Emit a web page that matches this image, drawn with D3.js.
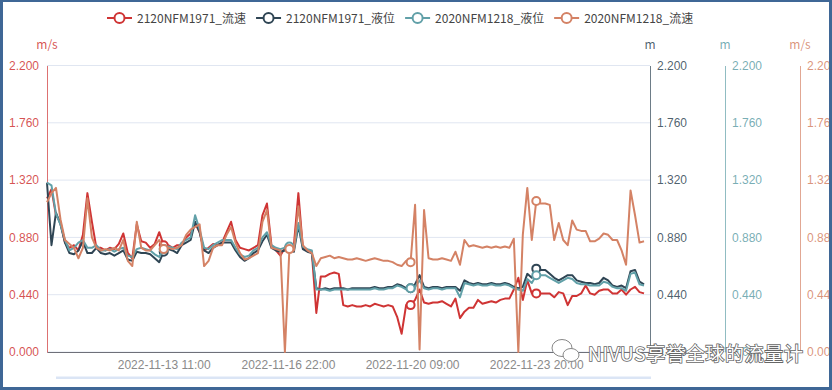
<!DOCTYPE html>
<html>
<head>
<meta charset="utf-8">
<script src="https://cdn.jsdelivr.net/npm/d3@7"></script>
<style>
    body { margin: 0; background: #fff; }
    svg { display: block; font-family: "Microsoft YaHei", "Noto Sans CJK SC", sans-serif; }
</style>
</head>
<body>
<div id="chart"></div>
<script>
const w = 832;
const h = 390;

const margin = {
    left: 47,
    right: 182,
    top: 65.5,
    bottom: 38
};

const plotRight = w - margin.right;
const plotBottom = h - margin.bottom;

// ### data ###
const seriesNames = ["2120NFM1971_流速", "2120NFM1971_液位", "2020NFM1218_液位", "2020NFM1218_流速"];
const seriesColors = ["#cf3434", "#2f4554", "#61a0a8", "#d48265"];
const axisUnits = ["m/s", "m", "m", "m/s"];

const startTime = "2022-11-10 05:00";
const endTime = "2022-11-27 00:00";
const stepHours = 3;
const xTickLabels = ["2022-11-13 11:00", "2022-11-16 22:00", "2022-11-20 09:00", "2022-11-23 20:00"];
const yTickValues = [0, 0.44, 0.88, 1.32, 1.76, 2.2];

// 2120NFM1971 flow speed (m/s)
const flow1971 = [
    1.18, 1.25, 1.05, 1.00, 0.84, 0.80, 0.82, 0.78, 0.90, 1.22,
    1.00, 0.80, 0.80, 0.78, 0.80, 0.79, 0.83, 0.91, 0.76, 0.72,
    0.98, 0.85, 0.84, 0.80, 0.83, 0.92, 0.82, 0.82, 0.80, 0.82,
    0.82, 0.88, 0.91, 0.99, 0.92, 0.78, 0.80, 0.83, 0.82, 0.84,
    0.92, 1.00, 0.86, 0.80, 0.79, 0.78, 0.80, 0.82, 1.05, 1.14,
    0.82, 0.78, 0.74, 0.80, 0.80, 0.82, 1.22, 0.80, 0.78, 0.76,
    0.30, 0.58, 0.58, 0.60, 0.61, 0.60, 0.36, 0.35, 0.36, 0.35,
    0.35, 0.36, 0.35, 0.37, 0.36, 0.35, 0.36, 0.35, 0.27, 0.14,
    0.36, 0.36, 0.40, 0.48, 0.38, 0.37, 0.38, 0.38, 0.39, 0.37,
    0.35, 0.41, 0.26, 0.31, 0.34, 0.34, 0.40, 0.37, 0.38, 0.39,
    0.38, 0.40, 0.41, 0.41, 0.48, 0.57, 0.40, 0.55, 0.45, 0.45,
    0.45, 0.45, 0.45, 0.42, 0.46, 0.45, 0.36, 0.43, 0.43, 0.45,
    0.51, 0.45, 0.44, 0.47, 0.48, 0.48, 0.45, 0.45, 0.48, 0.44,
    0.48, 0.50, 0.46, 0.45
];

// 2120NFM1971 level (m)
const level1971 = [
    1.30, 0.82, 1.07, 0.98, 0.84, 0.76, 0.75, 0.78, 0.85, 0.76,
    0.76, 0.80, 0.76, 0.75, 0.76, 0.74, 0.76, 0.78, 0.71, 0.70,
    0.77, 0.76, 0.76, 0.75, 0.72, 0.69, 0.77, 0.79, 0.78, 0.76,
    0.82, 0.84, 0.86, 1.00, 0.92, 0.78, 0.76, 0.80, 0.82, 0.84,
    0.84, 0.84, 0.78, 0.73, 0.70, 0.72, 0.76, 0.78, 0.85, 0.90,
    0.80, 0.78, 0.77, 0.78, 0.80, 0.77, 0.97, 0.79, 0.77, 0.76,
    0.49, 0.48, 0.49, 0.48, 0.49, 0.49, 0.49, 0.48, 0.49, 0.49,
    0.49, 0.49, 0.49, 0.50, 0.49, 0.49, 0.50, 0.50, 0.52, 0.51,
    0.49, 0.49, 0.52, 0.59, 0.50, 0.49, 0.50, 0.50, 0.49, 0.50,
    0.50, 0.50, 0.47, 0.55, 0.53, 0.52, 0.53, 0.52, 0.52, 0.53,
    0.52, 0.52, 0.53, 0.52, 0.50, 0.49, 0.50, 0.60, 0.57, 0.64,
    0.63, 0.63, 0.60, 0.57, 0.55, 0.57, 0.59, 0.59, 0.55, 0.54,
    0.53, 0.53, 0.52, 0.53, 0.57, 0.55, 0.51, 0.50, 0.51, 0.49,
    0.62, 0.63, 0.54, 0.52
];

// 2020NFM1218 level (m)
const level1218 = [
    1.30, 1.28, 1.06, 0.98, 0.86, 0.78, 0.80, 0.84, 0.86, 0.80,
    0.80, 0.82, 0.78, 0.78, 0.79, 0.77, 0.79, 0.80, 0.74, 0.73,
    0.79, 0.80, 0.79, 0.78, 0.75, 0.73, 0.79, 0.81, 0.80, 0.79,
    0.84, 0.86, 0.88, 1.05, 0.94, 0.80, 0.79, 0.82, 0.84, 0.86,
    0.86, 0.86, 0.80, 0.75, 0.73, 0.74, 0.78, 0.80, 0.88, 0.92,
    0.82, 0.80, 0.79, 0.80, 0.81, 0.79, 0.99, 0.81, 0.79, 0.78,
    0.48, 0.48, 0.48, 0.47, 0.48, 0.48, 0.48, 0.48, 0.48, 0.48,
    0.48, 0.48, 0.48, 0.49, 0.48, 0.48, 0.49, 0.49, 0.51, 0.50,
    0.48, 0.49, 0.50, 0.55, 0.49, 0.48, 0.49, 0.49, 0.48, 0.49,
    0.49, 0.49, 0.42, 0.53, 0.52, 0.51, 0.52, 0.51, 0.51, 0.52,
    0.51, 0.51, 0.52, 0.51, 0.49, 0.48, 0.47, 0.56, 0.53, 0.59,
    0.59, 0.59, 0.57, 0.55, 0.53, 0.55, 0.57, 0.56, 0.53, 0.52,
    0.52, 0.51, 0.51, 0.51, 0.54, 0.53, 0.50, 0.49, 0.49, 0.47,
    0.60, 0.61, 0.52, 0.51
];

// 2020NFM1218 flow speed (m/s)
const flow1218 = [
    1.15, 1.22, 1.26, 1.02, 0.86, 0.83, 0.80, 0.72, 0.80, 1.18,
    0.88, 0.80, 0.78, 0.79, 0.78, 0.80, 0.78, 0.86, 0.70, 0.66,
    1.00, 0.80, 0.78, 0.78, 0.82, 0.86, 0.79, 0.80, 0.79, 0.80,
    0.82, 0.90, 0.94, 0.96, 0.98, 0.66, 0.70, 0.80, 0.82, 0.82,
    0.90, 0.96, 0.84, 0.76, 0.71, 0.72, 0.74, 0.76, 1.00, 1.09,
    0.80, 0.79, 0.78, 0.00, 0.79, 0.78, 1.12, 0.82, 0.78, 0.76,
    0.66, 0.72, 0.73, 0.74, 0.72, 0.73, 0.72, 0.71, 0.71, 0.72,
    0.71, 0.70, 0.71, 0.72, 0.71, 0.70, 0.70, 0.69, 0.67, 0.66,
    0.70, 0.69, 1.13, 0.02, 1.09, 0.72, 0.71, 0.71, 0.72, 0.71,
    0.70, 0.77, 0.67, 0.86, 0.81, 0.82, 0.81, 0.80, 0.81, 0.80,
    0.81, 0.80, 0.81, 0.80, 0.87, 0.00, 0.90, 1.26, 0.86, 1.16,
    1.14, 1.14, 1.13, 0.86, 0.99, 0.86, 0.82, 1.01, 0.94, 0.93,
    0.93, 0.85, 0.85, 0.87, 0.91, 0.90, 0.86, 0.86, 0.78, 0.67,
    1.24, 1.05, 0.84, 0.85
];

const seriesValues = [flow1971, level1971, level1218, flow1218];

// points where the chart shows its hollow symbols (at the label times)
const symbolIndex = [26, 54, 81, 109];

const parseTime = d3.timeParse("%Y-%m-%d %H:%M");
const formatTime = d3.timeFormat("%Y-%m-%d %H:%M");
const t0 = parseTime(startTime);
const times = flow1971.map((d, i) => d3.timeHour.offset(t0, i * stepHours));

// ### svg ###
const svg = d3.select("#chart")
    .append("svg")
    .attr("width", w)
    .attr("height", h);

// scales
const x = d3.scaleTime()
    .domain([t0, parseTime(endTime)])
    .range([margin.left, plotRight]);

const axisX = [margin.left, plotRight, 725, 800];
const yScales = axisX.map(() => d3.scaleLinear()
    .domain([0, 2.2])
    .range([plotBottom, margin.top]));

// gridlines
svg.append("g")
    .selectAll("line")
    .data(yTickValues)
    .enter()
    .append("line")
    .attr("x1", margin.left)
    .attr("x2", plotRight)
    .attr("y1", d => yScales[0](d))
    .attr("y2", d => yScales[0](d))
    .attr("stroke", "#e0e6f1")
    .attr("stroke-width", 1);

// x axis
const xAxis = svg.append("g")
    .attr("transform", "translate(0," + plotBottom + ")")
    .call(d3.axisBottom(x)
        .tickValues(xTickLabels.map(parseTime))
        .tickSize(0)
        .tickPadding(8)
        .tickFormat(formatTime));
xAxis.select(".domain").attr("stroke", "#6e7079");
xAxis.selectAll("text")
    .attr("fill", "#8a8a8a")
    .attr("font-size", 12)
    .attr("font-family", null);

// y axes (one per series)
yScales.forEach(function(ys, k) {
    let axis = k === 0 ? d3.axisLeft(ys) : d3.axisRight(ys);
    axis.tickValues(yTickValues)
        .tickSize(0)
        .tickPadding(k === 0 ? 8 : 7)
        .tickFormat(d3.format(".3f"));

    let g = svg.append("g")
        .attr("transform", "translate(" + axisX[k] + ",0)")
        .call(axis);
    g.select(".domain")
        .attr("stroke", seriesColors[k])
        .attr("stroke-opacity", 0.7);
    g.selectAll("text")
        .attr("fill", seriesColors[k])
        .attr("fill-opacity", 0.85)
        .attr("font-size", 12)
        .attr("font-family", null);

    svg.append("text")
        .attr("x", axisX[k])
        .attr("y", 49)
        .attr("text-anchor", "middle")
        .attr("font-size", 12)
        .attr("fill", seriesColors[k])
        .attr("fill-opacity", 0.85)
        .text(axisUnits[k]);
});

// series lines
const line = d3.line()
    .x((d, i) => x(times[i]))
    .y(d => yScales[0](d));

seriesValues.forEach(function(vals, k) {
    svg.append("path")
        .datum(vals)
        .attr("fill", "none")
        .attr("stroke", seriesColors[k])
        .attr("stroke-width", 2)
        .attr("stroke-linejoin", "round")
        .attr("d", line);

    svg.append("g")
        .selectAll("circle")
        .data(symbolIndex)
        .enter()
        .append("circle")
        .attr("cx", i => x(times[i]))
        .attr("cy", i => yScales[k](vals[i]))
        .attr("r", 4)
        .attr("fill", "#fff")
        .attr("stroke", seriesColors[k])
        .attr("stroke-width", 2);
});

// legend
let legendX = 107;
seriesNames.forEach(function(name, k) {
    let item = svg.append("g")
        .attr("transform", "translate(" + legendX + ",18)");
    item.append("line")
        .attr("x1", 0).attr("x2", 25)
        .attr("stroke", seriesColors[k])
        .attr("stroke-width", 2);
    item.append("circle")
        .attr("cx", 12.5)
        .attr("r", 5)
        .attr("fill", "#fff")
        .attr("stroke", seriesColors[k])
        .attr("stroke-width", 2);
    let label = item.append("text")
        .attr("x", 30)
        .attr("y", 4.5)
        .attr("font-size", 12)
        .attr("fill", "#444")
        .text(name);
    legendX += 30 + label.node().getComputedTextLength() + 10;
});

// slider track of the data zoom
svg.append("rect")
    .attr("x", 56)
    .attr("y", 376.5)
    .attr("width", plotRight + 1 - 56)
    .attr("height", 2.5)
    .attr("fill", "#dbe5f5");

// watermark
const wm = svg.append("g");
wm.append("ellipse")
    .attr("cx", 562).attr("cy", 348).attr("rx", 10).attr("ry", 8.5)
    .attr("fill", "#fff").attr("stroke", "#888").attr("stroke-width", 1);
wm.append("ellipse")
    .attr("cx", 571).attr("cy", 355).attr("rx", 8).attr("ry", 6.5)
    .attr("fill", "#fff").attr("stroke", "#888").attr("stroke-width", 1);
wm.append("text")
    .attr("x", 588)
    .attr("y", 361)
    .attr("font-size", 19)
    .attr("textLength", 215)
    .attr("lengthAdjust", "spacing")
    .attr("fill", "#fff")
    .attr("stroke", "#666")
    .attr("stroke-width", 1.6)
    .attr("paint-order", "stroke")
    .text("NIVUS享誉全球的流量计");

// frame
const frameColor = "#3f6796";
[[0, 0, w, 2], [0, 0, 3, h], [0, h - 3, w, 3], [w - 3, 0, 3, h]].forEach(function(r) {
    svg.append("rect")
        .attr("x", r[0]).attr("y", r[1])
        .attr("width", r[2]).attr("height", r[3])
        .attr("fill", frameColor);
});
</script>
</body>
</html>
